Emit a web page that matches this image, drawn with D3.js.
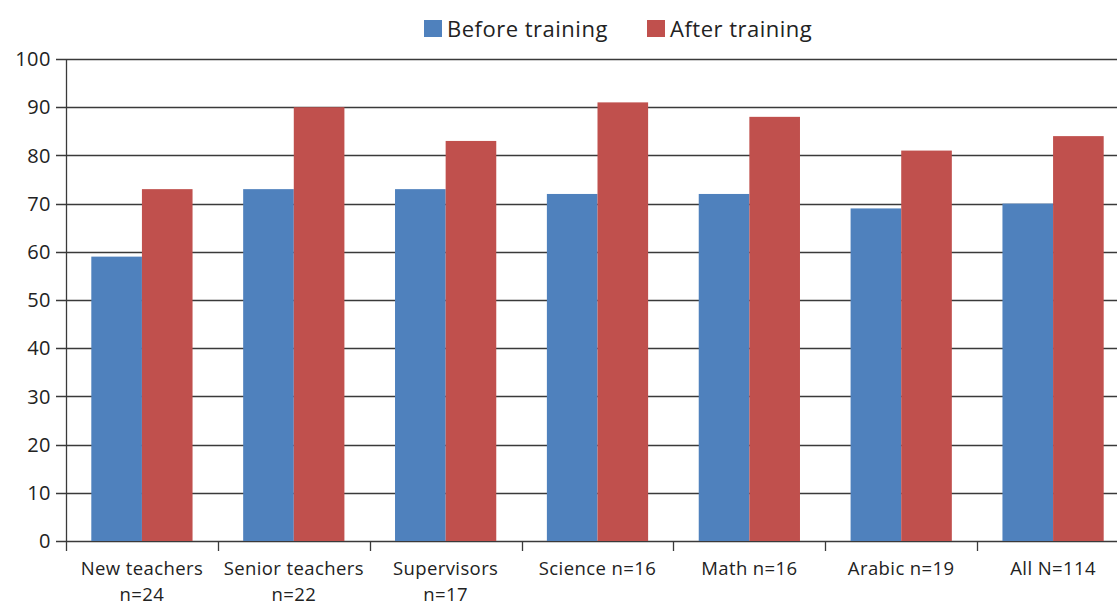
<!DOCTYPE html>
<html><head><meta charset="utf-8">
<script src="https://cdn.jsdelivr.net/npm/d3@7"></script>
<style>body{margin:0;background:#fff;} svg{display:block;font-family:"Open Sans","Liberation Sans",sans-serif;}</style>
</head><body>
<svg id="c" width="1117" height="606"></svg>
<script>
const categories = [["New teachers","n=24"],["Senior teachers","n=22"],["Supervisors","n=17"],["Science n=16"],["Math n=16"],["Arabic n=19"],["All N=114"]];
const seriesNames = ["Before training","After training"];
const before = [59,73,73,72,72,69,70];
const after = [73,90,83,91,88,81,84];
const yTicks = [0,10,20,30,40,50,60,70,80,90,100];
const colors = ["#4f81bd","#c0504d"];

(function(){
const svg = d3.select("#c");
const mLeft = 66, mRight = 1129, mTop = 59, mBottom = 541;
const x = d3.scaleBand().domain(d3.range(categories.length)).range([mLeft,mRight]).paddingInner(0).paddingOuter(0);
const xi = d3.scaleBand().domain([0,1]).range([0,x.bandwidth()]).paddingOuter(0.5).paddingInner(0);
const y = d3.scaleLinear().domain([0,100]).range([mBottom,mTop]);

// gridlines
svg.append("g").selectAll("line").data(yTicks).join("line")
  .attr("x1",56).attr("x2",1117)
  .attr("y1",d=>Math.round(y(d))+0.5).attr("y2",d=>Math.round(y(d))+0.5)
  .attr("stroke","#3a3a3a").attr("stroke-width",1.3);

// bars
const data = [before, after];
const g = svg.append("g");
categories.forEach((c,i)=>{
  data.forEach((s,j)=>{
    g.append("rect")
      .attr("x",x(i)+xi(j)).attr("width",xi.bandwidth())
      .attr("y",y(s[i])).attr("height",y(0)-y(s[i]))
      .attr("fill",colors[j]);
  });
});

// y axis
svg.append("line").attr("x1",mLeft+0.5).attr("x2",mLeft+0.5).attr("y1",mTop).attr("y2",mBottom+10)
  .attr("stroke","#3a3a3a").attr("stroke-width",1.3);
svg.append("g").selectAll("text").data(yTicks).join("text")
  .attr("x",51).attr("y",d=>y(d)).attr("dy","0.36em").attr("text-anchor","end")
  .attr("font-size",20).attr("letter-spacing",0.5).attr("fill","#222").text(d=>d);

// x ticks
svg.append("g").selectAll("line").data(d3.range(1,categories.length)).join("line")
  .attr("x1",d=>Math.round(x(d))+0.5).attr("x2",d=>Math.round(x(d))+0.5)
  .attr("y1",mBottom).attr("y2",mBottom+10).attr("stroke","#3a3a3a").attr("stroke-width",1.3);
const xl = svg.append("g");
categories.forEach((c,i)=>{
  c.forEach((line,k)=>xl.append("text")
    .attr("x",x(i)+x.bandwidth()/2).attr("y",575+k*25.5)
    .attr("text-anchor","middle").attr("font-size",18.5).attr("letter-spacing",0.4).attr("fill","#222")
    .text(line));
});

// legend
const legX = [424, 647];
seriesNames.forEach((n,j)=>{
  svg.append("rect").attr("x",legX[j]).attr("y",20).attr("width",18).attr("height",17).attr("fill",colors[j]);
  svg.append("text").attr("x",legX[j]+23).attr("y",37)
    .attr("font-size",22).attr("letter-spacing",0.5).attr("fill","#222").text(n);
});
})();
</script>
</body></html>
